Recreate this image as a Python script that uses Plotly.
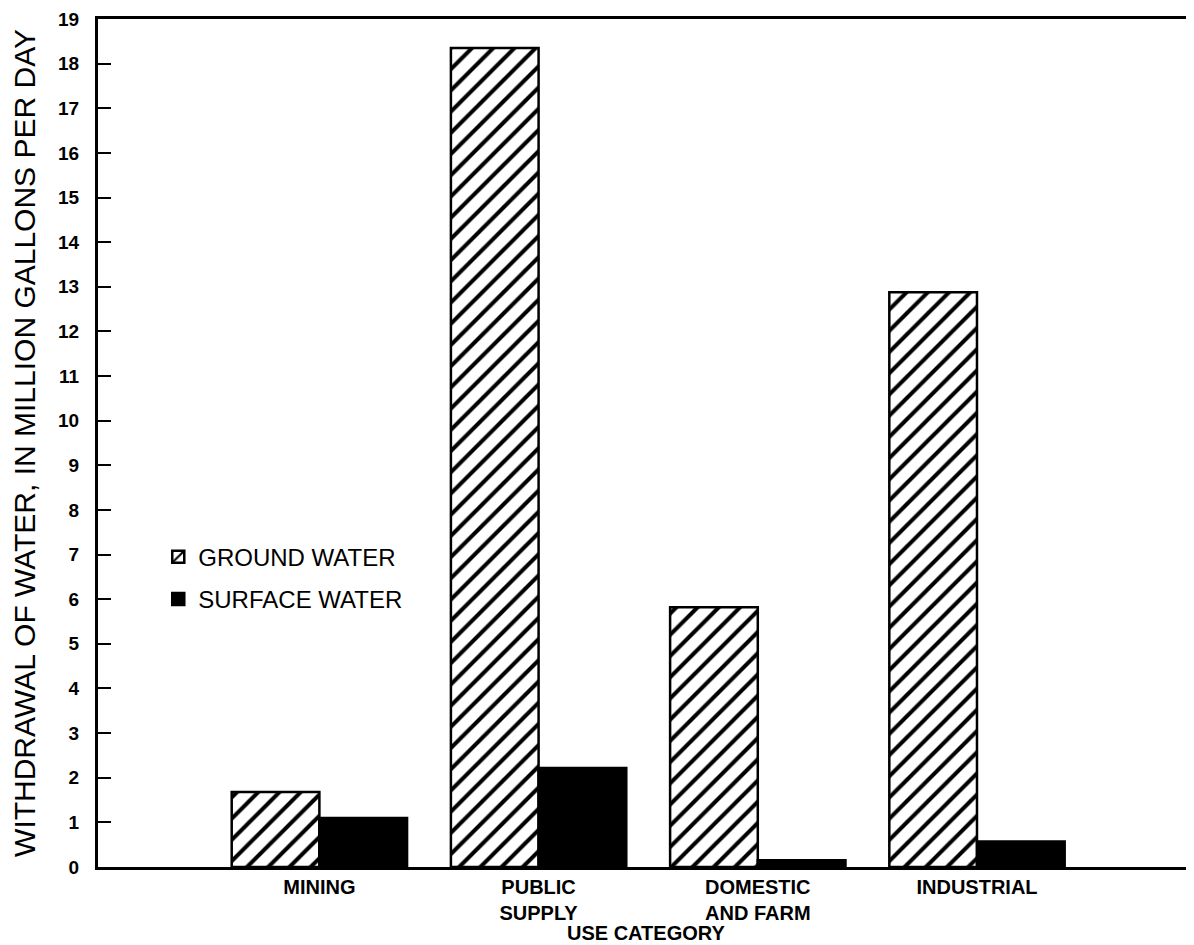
import plotly.graph_objects as go

categories = ["MINING", "PUBLIC<br>SUPPLY", "DOMESTIC<br>AND FARM", "INDUSTRIAL"]
ground_water = [1.68, 18.35, 5.82, 12.88]
surface_water = [1.1, 2.22, 0.15, 0.57]
y_ticks = list(range(0, 20))

font_main = "Liberation Sans, Arial, sans-serif"

fig = go.Figure()
fig.add_trace(go.Bar(
    x=categories, y=ground_water, name="GROUND WATER", legendgroup="g",
    marker=dict(color="white", line=dict(color="black", width=2.5),
                pattern=dict(shape="/", size=15, solidity=0.27, fgcolor="black",
                             fgopacity=1, bgcolor="white")),
))
fig.add_trace(go.Bar(
    x=categories, y=surface_water, name="SURFACE WATER", legendgroup="s",
    marker=dict(color="black", line=dict(color="black", width=2.5)),
))

fig.update_layout(
    width=1186, height=937,
    margin=dict(l=90, r=0, t=11, b=78),
    paper_bgcolor="white", plot_bgcolor="white",
    barmode="group", bargap=0.2, bargroupgap=0,
    font=dict(family=font_main, color="black"),
    showlegend=True,
    legend=dict(x=0.055, y=0.392, xanchor="left", yanchor="top",
                font=dict(size=24, family=font_main), bgcolor="rgba(0,0,0,0)",
                tracegroupgap=8, itemwidth=30),
    xaxis=dict(range=[-1.01, 3.99], showline=True, linecolor="black", linewidth=3,
               mirror=True, ticks="", showgrid=False, zeroline=False, automargin=False,
               tickfont=dict(size=20, family=font_main, weight="bold")),
    yaxis=dict(range=[0, 19], tickvals=y_ticks, showline=True, linecolor="black", linewidth=3,
               ticks="inside", ticklen=13, tickwidth=2, tickcolor="black",
               showgrid=False, zeroline=False, automargin=False, ticklabelstandoff=12,
               tickfont=dict(size=19, family=font_main, weight="bold"),
               title=dict(text="WITHDRAWAL OF WATER, IN MILLION GALLONS PER DAY",
                          font=dict(size=30, family=font_main), standoff=17)),
    yaxis2=dict(range=[0, 19], tickvals=y_ticks, overlaying="y", side="right",
                showline=False, ticks="inside", ticklen=9, tickwidth=2, tickcolor="black",
                showticklabels=False, showgrid=False, zeroline=False, automargin=False),
    annotations=[dict(text="<b>USE CATEGORY</b>", xref="paper", yref="paper",
                      x=0.5, y=0, yshift=-66, xanchor="center", yanchor="middle",
                      showarrow=False, font=dict(size=20, family=font_main))],
)

fig.write_html("out.html")
